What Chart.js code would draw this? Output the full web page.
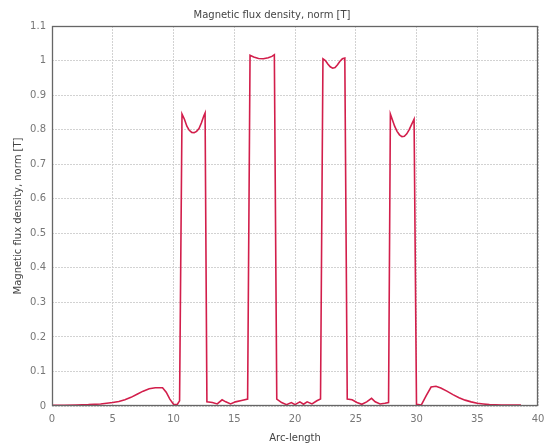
<!DOCTYPE html>
<html>
<head>
<meta charset="utf-8">
<script src="https://cdn.jsdelivr.net/npm/chart.js@4"></script>
<style>
html,body{margin:0;padding:0;background:#fff;}
#wrap{width:544px;height:444px;}
</style>
</head>
<body>
<div id="wrap"><canvas id="c" width="544" height="444"></canvas></div>
<script>
const titleText = "Magnetic flux density, norm [T]";
const xTitle = "Arc-length";
const yTitle = "Magnetic flux density, norm [T]";
const arcLength = [0,1,2,3,4,5,5.5,6,6.5,7,7.5,8,8.5,9.1,9.4,9.7,10.0,10.3,10.5,
  10.7,10.9,11.1,11.3,11.5,11.7,11.9,12.1,12.3,12.5,12.6,
  12.75,13.2,13.6,14.0,14.3,14.7,15.1,15.6,16.1,
  16.3,16.6,17.0,17.4,17.8,18.1,18.3,
  18.5,18.9,19.3,19.7,20.0,20.4,20.7,21.0,21.4,21.8,22.1,
  22.3,22.5,22.7,22.9,23.1,23.3,23.5,23.7,23.9,24.1,
  24.3,24.7,25.1,25.5,25.9,26.3,26.6,27.0,27.4,27.7,
  27.85,28.0,28.2,28.4,28.6,28.8,29.0,29.2,29.4,29.6,29.8,
  30.0,30.4,30.8,31.2,31.6,32.0,32.5,33.0,33.5,34.0,34.5,35.0,35.5,36.0,37,38,38.6];
const fluxNorm = [0.002,0.002,0.003,0.004,0.006,0.01,0.013,0.018,0.025,0.034,0.043,0.05,0.053,0.053,0.04,0.02,0.005,0.004,0.015,
  0.845,0.83,0.81,0.798,0.792,0.791,0.795,0.803,0.82,0.84,0.848,
  0.012,0.01,0.006,0.018,0.012,0.006,0.012,0.016,0.02,
  1.015,1.01,1.006,1.005,1.008,1.012,1.017,
  0.02,0.01,0.004,0.01,0.004,0.012,0.005,0.012,0.006,0.015,0.02,
  1.005,1.0,0.99,0.982,0.978,0.98,0.988,0.998,1.005,1.007,
  0.02,0.018,0.01,0.005,0.012,0.022,0.012,0.006,0.008,0.01,
  0.845,0.83,0.81,0.795,0.785,0.78,0.781,0.788,0.8,0.815,0.83,
  0.005,0.003,0.03,0.055,0.057,0.052,0.043,0.033,0.024,0.017,0.012,0.008,0.006,0.004,0.003,0.003,0.003];
const xTicks = [0,5,10,15,20,25,30,35,40];
const yTicks = [0,0.1,0.2,0.3,0.4,0.5,0.6,0.7,0.8,0.9,1,1.1];

const points = arcLength.map((x,i)=>({x:x,y:fluxNorm[i]}));

const framePlugin = {
  id:'frame',
  afterDraw(chart){
    const a = chart.chartArea, ctx = chart.ctx;
    ctx.save();
    ctx.strokeStyle = '#666';
    ctx.lineWidth = 1.3;
    ctx.strokeRect(Math.round(a.left)+0.5, Math.round(a.top)+0.5, Math.round(a.right-a.left)-1, Math.round(a.bottom-a.top)-1);
    ctx.restore();
  }
};

new Chart(document.getElementById('c'), {
  type:'scatter',
  data:{datasets:[{
    data:points,
    showLine:true,
    borderColor:'rgb(210,30,75)',
    borderWidth:1.6,
    pointRadius:0,
    tension:0,
    fill:false
  }]},
  options:{
    responsive:false,
    animation:false,
    layout:{padding:{left:0,right:0,top:0,bottom:0}},
    plugins:{
      legend:{display:false},
      tooltip:{enabled:false},
      title:{display:true,text:titleText,color:'#444',font:{family:'DejaVu Sans',size:10,weight:'normal'},padding:{top:9,bottom:5}}
    },
    scales:{
      x:{
        type:'linear',min:0,max:40,
        afterBuildTicks(s){ s.ticks = xTicks.map(v=>({value:v})); },
        afterFit(s){ s.height = 38; s.paddingLeft = 0; s.paddingRight = 6; },
        ticks:{color:'#777',font:{family:'DejaVu Sans',size:10},padding:7,maxRotation:0},
        grid:{color:'#d2d2d2',drawTicks:false},
        border:{display:false,dash:[2,1]},
        title:{display:true,text:xTitle,color:'#444',font:{family:'DejaVu Sans',size:10},padding:{top:1,bottom:0}}
      },
      y:{
        type:'linear',min:0,max:1.1,
        afterBuildTicks(s){ s.ticks = yTicks.map(v=>({value:v})); },
        afterFit(s){ s.width = 52; s.paddingTop = 0; s.paddingBottom = 0; },
        ticks:{color:'#777',font:{family:'DejaVu Sans',size:10},padding:6,callback:v=>String(Math.round(v*10)/10)},
        grid:{color:'#d2d2d2',drawTicks:false},
        border:{display:false,dash:[2,1]},
        title:{display:true,text:yTitle,color:'#444',font:{family:'DejaVu Sans',size:10},padding:{top:12,bottom:0}}
      }
    }
  },
  plugins:[framePlugin]
});
</script>
</body>
</html>
